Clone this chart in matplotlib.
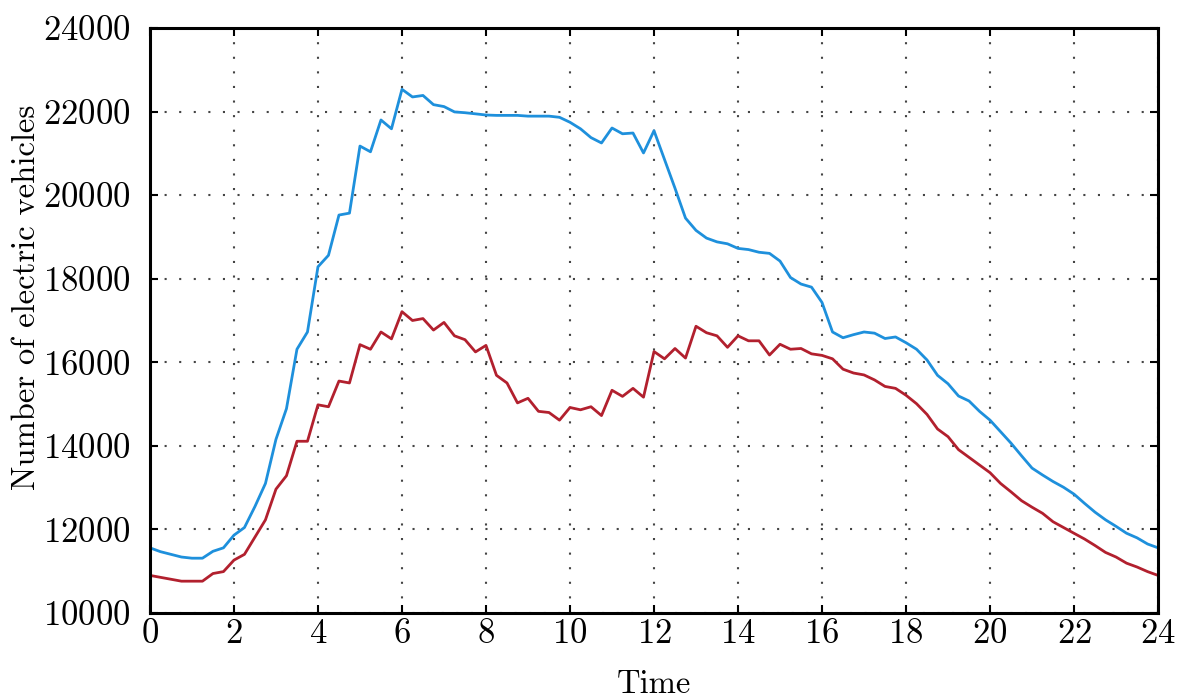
import matplotlib
matplotlib.use('Agg')
import numpy as np
import matplotlib.pyplot as plt

plt.rcParams['font.family'] = ['cmr10', 'DejaVu Serif']
plt.rcParams['axes.formatter.use_mathtext'] = True

# time in hours, one sample every 15 minutes
hours = np.arange(0, 24.01, 0.25)

ev_upper = [
    11560, 11468, 11404, 11340, 11312, 11312, 11477, 11560,
    11863, 12046, 12550, 13101, 14156, 14890, 16312, 16725,
    18285, 18560, 19523, 19569, 21174, 21037, 21798, 21587,
    22532, 22349, 22385, 22165, 22119, 21991, 21972, 21945,
    21917, 21908, 21908, 21908, 21890, 21890, 21890, 21862,
    21743, 21587, 21376, 21248, 21606, 21468, 21486, 21009,
    21541, 20853, 20165, 19450, 19156, 18972, 18881, 18835,
    18725, 18697, 18633, 18606, 18422, 18028, 17872, 17798,
    17431, 16725, 16587, 16661, 16725, 16697, 16569, 16606,
    16468, 16312, 16055, 15688, 15486, 15193, 15074, 14826,
    14615, 14340, 14064, 13762, 13468, 13303, 13147, 13009,
    12844, 12624, 12413, 12230, 12074, 11909, 11799, 11652,
    11560,
]

ev_lower = [
    10900, 10854, 10808, 10762, 10762, 10762, 10945, 10991,
    11266, 11404, 11817, 12230, 12964, 13285, 14110, 14110,
    14982, 14936, 15551, 15505, 16422, 16312, 16725, 16560,
    17211, 17000, 17046, 16771, 16954, 16633, 16541, 16248,
    16404, 15688, 15505, 15028, 15138, 14826, 14798, 14615,
    14918, 14863, 14936, 14725, 15330, 15184, 15376, 15165,
    16257, 16083, 16330, 16101, 16862, 16707, 16633, 16358,
    16633, 16514, 16514, 16174, 16431, 16312, 16330, 16202,
    16165, 16083, 15835, 15743, 15697, 15578, 15422, 15376,
    15211, 15009, 14752, 14404, 14220, 13909, 13725, 13541,
    13358, 13101, 12899, 12688, 12532, 12386, 12184, 12046,
    11908, 11771, 11615, 11450, 11340, 11193, 11101, 10991,
    10900,
]

x_ticks = np.arange(0, 25, 2)
y_ticks = np.arange(10000, 24001, 2000)

fig = plt.figure(figsize=(11.77, 6.99), dpi=100)
ax = fig.add_axes([0.1274, 0.123, 0.8565, 0.837])

ax.plot(hours, ev_upper, color='#1e90dc', lw=2)
ax.plot(hours, ev_lower, color='#b2202e', lw=2)

ax.set_xlim(0, 24)
ax.set_ylim(10000, 24000)
ax.set_xticks(x_ticks)
ax.set_yticks(y_ticks)
ax.grid(True, ls=(0, (1, 6)), color='#444444', lw=1.5)

for s in ax.spines.values():
    s.set_linewidth(2.2)
ax.tick_params(direction='in', top=True, right=True, length=6, width=1.5,
               labelsize=25)
ax.tick_params(axis='y', pad=14)
ax.tick_params(axis='x', pad=4)

ax.set_xlabel('Time', fontsize=23.5, labelpad=14)
ax.set_ylabel('Number of electric vehicles', fontsize=23.5, labelpad=10)
ax.yaxis.set_label_coords(-0.108, 0.54)

plt.savefig('out.png', dpi=100)
